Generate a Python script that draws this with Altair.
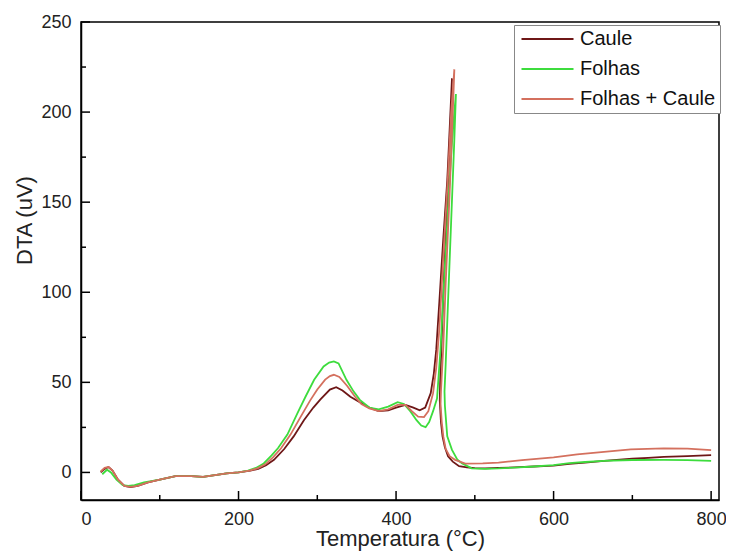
import altair as alt
import pandas as pd

series_names = ["Caule", "Folhas", "Folhas + Caule"]
series_colors = ["#6e1717", "#3ddc3d", "#d4705e"]

caule_T = [25, 30, 35, 40, 47, 55, 63, 72, 85, 100, 120, 140, 155, 170, 185, 200, 215, 225, 235, 245,
           258, 270, 283, 295, 304, 316, 324, 332, 342, 354, 366, 378, 390, 400, 412, 422, 430, 437,
           444, 448, 451, 455, 460, 465, 468, 471, 469, 465, 461, 458, 456, 455.5, 457, 459, 462,
           466, 472, 480, 490, 500, 513, 530, 550, 575, 600, 620, 640, 664, 680, 700, 720, 740, 770, 800]
caule_v = [0, 2, 3, 1, -4, -7.5, -8.2, -7.5, -5.5, -4, -2, -2, -2.5, -1.5, -0.5, 0, 1, 2, 4, 7,
           13, 20, 29, 36, 40.5, 46, 47.3, 45.5, 42, 39, 36, 34, 34.5, 36, 37.5, 36, 34.5, 36,
           44, 55, 68, 95, 130, 162, 190, 218.7, 195, 150, 110, 75, 50, 40, 28, 20, 14,
           9, 6, 3.5, 2.8, 2.4, 2.3, 2.5, 2.8, 3.3, 3.8, 4.8, 5.5, 6.4, 7, 7.6, 8.1, 8.6, 9, 9.6]

folhas_T = [27, 33, 38, 45, 53, 60, 68, 80, 100, 120, 140, 155, 170, 185, 200, 212, 222, 232, 242,
            250, 262, 275, 285, 296, 308, 315, 321, 327, 337, 346, 354, 366, 378, 390, 402, 410,
            418, 426, 432, 437.5, 442, 447, 452, 456.4, 462, 468, 472, 476, 474, 470, 466, 463,
            461.5, 462, 465, 471, 478, 484, 496, 513, 530, 550, 575, 600, 620, 640, 664, 700, 740, 770, 800]
folhas_v = [-1, 1.5, 0, -4, -7, -7.5, -7, -5.5, -4, -2, -2, -2.5, -1.5, -0.5, 0, 1, 2.5, 5, 9.5,
            13.4, 21, 33, 42, 51.4, 58.8, 61, 61.6, 60.5, 51.4, 45, 40.3, 36, 35, 36.5, 39, 38,
            34, 29, 26, 25.1, 28, 34, 41, 68, 115, 162.5, 190, 210, 185, 140, 95, 60,
            45, 37, 20, 12.5, 7, 5, 2.3, 2, 2.2, 2.7, 3.3, 4, 5.2, 5.8, 6.4, 6.9, 7, 6.8, 6.4]

mix_T = [25, 30, 35, 40, 47, 55, 63, 72, 85, 100, 120, 140, 155, 170, 185, 200, 214, 224, 234, 244,
         254, 266, 279, 291, 300, 310, 316, 321, 328, 338, 348, 356, 366, 378, 390, 402, 412, 420,
         428, 435.5, 441, 447, 451, 455, 460, 466, 470, 474, 472, 468, 463, 460, 457, 456.5, 458,
         460, 463, 468, 475, 488, 510, 530, 560, 600, 630, 664, 698, 740, 770, 800]
mix_v = [0.5, 2.5, 3, 1, -4, -7.5, -8, -7.5, -5.5, -4, -2, -2, -2.5, -1.5, -0.5, 0, 1, 2.3, 4.5, 8.5,
         13.4, 21, 31, 40, 46, 51.5, 53.5, 54.2, 53, 48, 42, 38, 35.5, 34, 35, 37.5, 37.5, 34,
         31, 30.7, 34, 44, 58, 80, 120, 165, 200, 223.7, 200, 155, 105, 70, 45, 38, 28,
         20, 13, 9, 7, 4.9, 5, 5.5, 6.8, 8.3, 10, 11.4, 12.8, 13.3, 13.2, 12.4]

x_major = [0, 200, 400, 600, 800]
x_minor = [100, 300, 500, 700]
y_major = [0, 50, 100, 150, 200, 250]
y_minor = [25, 75, 125, 175, 225]

rows = []
for name, ts, vs in [("Caule", caule_T, caule_v), ("Folhas", folhas_T, folhas_v),
                     ("Folhas + Caule", mix_T, mix_v)]:
    for i, (t, v) in enumerate(zip(ts, vs)):
        rows.append({"T": t, "v": v, "s": name, "i": i})
df = pd.DataFrame(rows)

W, H = 638, 478
MAJOR, MINOR = 9, 5
FONT = "Liberation Sans"
xscale = alt.Scale(domain=[0, 810], nice=False, zero=False)
yscale = alt.Scale(domain=[-15.3, 250], nice=False, zero=False)

x_axis = alt.Axis(title="Temperatura (°C)", values=x_major, ticks=False,
                  tickSize=0, labelPadding=10, titlePadding=0, grid=False, format="d",
                  labelFontSize=18, titleFontSize=22, titleFontWeight="normal",
                  labelColor="#222", titleColor="#222", domainColor="black",
                  domainWidth=1.5, labelFont=FONT, titleFont=FONT)
y_axis = alt.Axis(title="DTA (uV)", values=y_major, ticks=False, tickSize=0,
                  labelPadding=10, titlePadding=4, grid=False, format="d",
                  labelFontSize=18, titleFontSize=22, titleFontWeight="normal",
                  labelColor="#222", titleColor="#222", domainColor="black",
                  domainWidth=1.5, labelFont=FONT, titleFont=FONT, titleY=198)


def x_ticks(values, size):
    return alt.Chart(pd.DataFrame({"t": values})).mark_rule(color="black", strokeWidth=1.5).encode(
        x=alt.X("t:Q", scale=xscale, axis=None),
        y=alt.value(H), y2=alt.value(H - size),
    )


def y_ticks(values, size):
    return alt.Chart(pd.DataFrame({"t": values})).mark_rule(color="black", strokeWidth=1.5).encode(
        y=alt.Y("t:Q", scale=yscale, axis=None),
        x=alt.value(0), x2=alt.value(size),
    )


lines = alt.Chart(df).mark_line(strokeWidth=1.8).encode(
    x=alt.X("T:Q", scale=xscale, axis=x_axis),
    y=alt.Y("v:Q", scale=yscale, axis=y_axis),
    color=alt.Color("s:N", scale=alt.Scale(domain=series_names, range=series_colors),
                    legend=alt.Legend(title=None, orient="none", legendX=433, legendY=3,
                                      strokeColor="#888", fillColor="white", padding=4,
                                      labelFontSize=20, labelFont=FONT, labelColor="#111",
                                      symbolType="M-1,0H7", symbolSize=169,
                                      symbolStrokeWidth=2, labelOffset=42, rowPadding=10)),
    order=alt.Order("i:Q"),
)

chart = alt.layer(
    x_ticks(x_major, MAJOR), x_ticks(x_minor, MINOR),
    y_ticks(y_major, MAJOR), y_ticks(y_minor, MINOR),
    lines,
).resolve_axis(x="independent", y="independent").properties(
    width=W, height=H,
    autosize=alt.AutoSizeParams(type="none"),
    padding={"left": 73, "top": 14, "right": 7, "bottom": 51},
).configure_view(stroke="black", strokeWidth=1.5)

chart.save("out.html", embed_options={"renderer": "svg", "actions": False})
